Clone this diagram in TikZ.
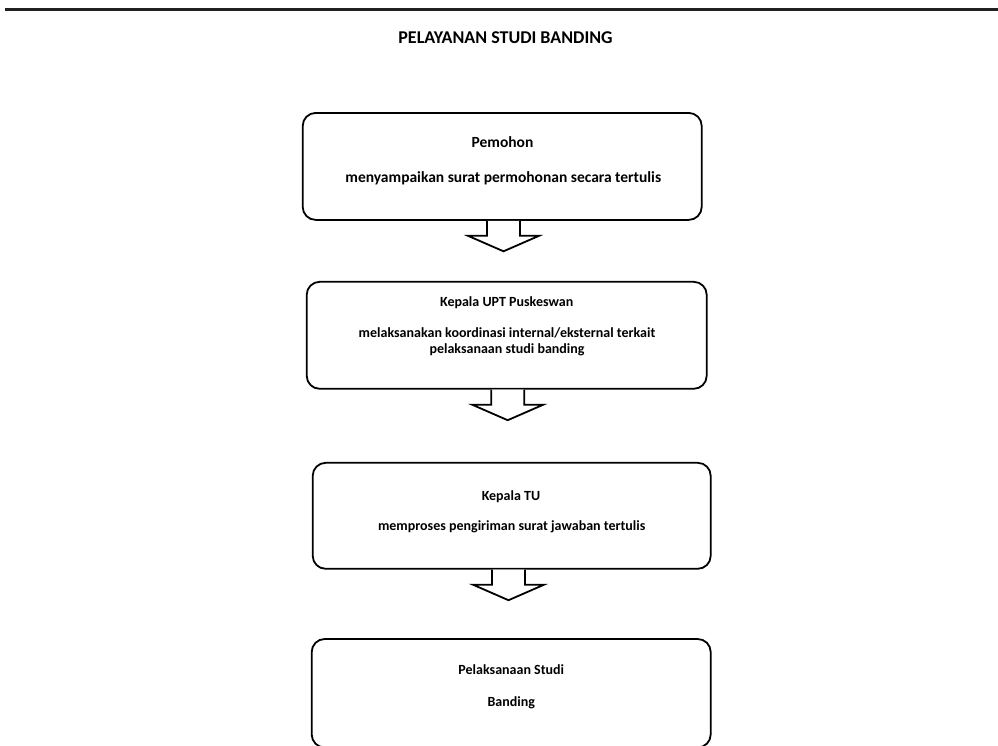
\documentclass[tikz,border=0pt]{standalone}
\usepackage{fontspec}
\setmainfont{Carlito}
\usetikzlibrary{calc}
\begin{document}
\begin{tikzpicture}[x=1pt,y=-1pt,
  box/.style={draw=black,line width=1.8pt,rounded corners=13pt,fill=white,inner sep=0pt},
  lbl/.style={font=\bfseries\fontsize{14}{16}\selectfont,inner sep=0pt,anchor=base},
  lblbig/.style={font=\bfseries\fontsize{15.5}{18}\selectfont,inner sep=0pt,anchor=base},
  blockarrow/.style={draw=black,line width=1.8pt,fill=white,line join=miter}]
\useasboundingbox (0,0) rectangle (998,745);
\fill[white] (0,0) rectangle (998,745);
\draw[line width=3.7pt,color=black!87] (5,9.4) -- (998,9.4);
\node[font=\bfseries\fontsize{18}{20}\selectfont,inner sep=0pt,anchor=base] (title) at (505.5,43.3) {PELAYANAN STUDI BANDING};
% boxes
\node[box,minimum width=399pt,minimum height=107pt] (b1) at (502.2,166.4) {};
\node[box,minimum width=400pt,minimum height=107pt] (b2) at (506.7,335.3) {};
\node[box,minimum width=398pt,minimum height=106pt] (b3) at (511.7,515.8) {};
\node[box,minimum width=399pt,minimum height=108.5pt] (b4) at (511.2,693.25) {};
% texts
\node[lblbig] (t1a) at (502.5,147.7) {Pemohon};
\node[lblbig] (t1b) at (503.3,182.3) {menyampaikan surat permohonan secara tertulis};
\node[lbl] (t2a) at (506.7,306) {Kepala UPT Puskeswan};
\node[lbl] (t2b) at (507,337.7) {melaksanakan koordinasi internal/eksternal terkait};
\node[lbl] (t2c) at (507,353.5) {pelaksanaan studi banding};
\node[lbl] (t3a) at (511,500) {Kepala TU};
\node[lbl] (t3b) at (511.7,530.7) {memproses pengiriman surat jawaban tertulis};
\node[lbl] (t4a) at (511.3,674) {Pelaksanaan Studi};
\node[lbl] (t4b) at (511.3,706.7) {Banding};
% block arrows
\foreach \s/\dx in {b1/1.3,b2/1,b3/-3.2}{
  \draw[blockarrow] ($(\s.south)+(\dx-16.5,0)$) -- ++(0,15) -- ++(-19,0) -- ++(35.5,15.5) -- ++(35.5,-15.5) -- ++(-19,0) -- ++(0,-15);
}
\end{tikzpicture}
\end{document}
